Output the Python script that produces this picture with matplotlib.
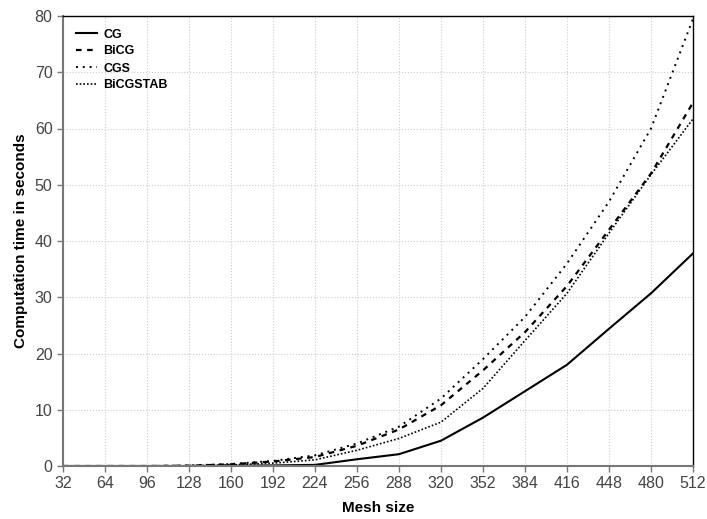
import numpy as np
import matplotlib.pyplot as plt

plt.rcParams['font.family'] = ['Liberation Sans', 'DejaVu Sans']

mesh = [32, 64, 96, 128, 160, 192, 224, 256, 288, 320, 352, 384, 416, 448, 480, 512]
cg = [0, 0, 0, 0, 0.05, 0.1, 0.2, 1.2, 2.1, 4.5, 8.6, 13.3, 18.0, 24.4, 30.7, 37.8]
bicg = [0, 0, 0, 0.05, 0.3, 0.8, 1.6, 3.6, 6.5, 10.8, 17.0, 23.8, 32.0, 42.0, 52.0, 64.6]
cgs = [0, 0, 0, 0.1, 0.35, 0.9, 1.9, 4.0, 7.0, 12.0, 19.0, 26.5, 36.0, 47.0, 60.0, 79.5]
bicgstab = [0, 0, 0, 0.05, 0.2, 0.5, 1.1, 2.8, 4.9, 7.8, 13.8, 22.3, 30.7, 41.4, 51.8, 61.7]

xticks = mesh
yticks = [0, 10, 20, 30, 40, 50, 60, 70, 80]

fig = plt.figure(figsize=(7.07, 5.19), dpi=100)
ax = fig.add_axes([63 / 707, 53 / 519, 630 / 707, 450 / 519])

ax.plot(mesh, cg, color='black', lw=1.5, linestyle='-', label='CG')
ax.plot(mesh, bicg, color='black', lw=1.6, linestyle=(0, (2.5, 2.5)), label='BiCG')
ax.plot(mesh, cgs, color='black', lw=1.4, linestyle=(0, (1, 2.5)), label='CGS')
ax.plot(mesh, bicgstab, color='black', lw=1.2, linestyle=(0, (1, 1.2)), label='BiCGSTAB')

ax.set_xlim(32, 512)
ax.set_ylim(0, 80)
ax.set_xticks(xticks)
ax.set_yticks(yticks)
ax.grid(True, color='#cccccc', linestyle=':', lw=0.8)
ax.set_axisbelow(True)

for s in ['left', 'bottom']:
    ax.spines[s].set_color('#777777')
    ax.spines[s].set_linewidth(1.5)
for s in ['top', 'right']:
    ax.spines[s].set_color('black')
    ax.spines[s].set_linewidth(1.0)

ax.tick_params(axis='both', colors='#777777', labelcolor='#444444', labelsize=11.5, length=4, width=1)

ax.set_xlabel('Mesh size', fontsize=11, fontweight='bold', labelpad=7)
ax.set_ylabel('Computation time in seconds', fontsize=11, fontweight='bold', labelpad=5)

leg = ax.legend(loc='upper left', frameon=False, fontsize=9, handlelength=1.7,
                handletextpad=0.5, labelspacing=0.4, borderaxespad=0.6)
for t in leg.get_texts():
    t.set_fontweight('bold')

fig.savefig('out.png', dpi=100)
